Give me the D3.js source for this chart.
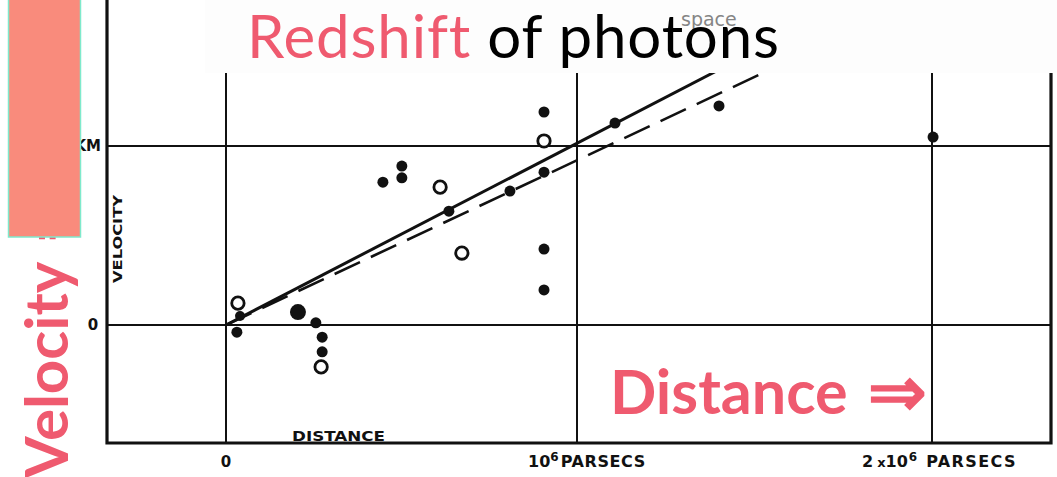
<!DOCTYPE html>
<html>
<head>
<meta charset="utf-8">
<script src="https://cdn.jsdelivr.net/npm/d3@7"></script>
<style>
  html, body { margin: 0; padding: 0; background: #fff; }
  svg { display: block; }
</style>
</head>
<body>
<svg id="chart" width="1057" height="477"></svg>
<script>
// Distance in units of 10^6 parsecs, velocity in km/s
const filledDistance = [0.031, 0.040, 0.205, 0.256, 0.274, 0.274, 0.447, 0.501, 0.501, 0.635, 0.809, 0.906, 0.906, 0.906, 0.906, 1.107, 1.400, 2.003];
const filledVelocity = [-20, 25, 36, 6, -34, -75, 399, 444, 411, 318, 374, 595, 427, 212, 98, 564, 612, 525];
const filledSize     = [5.5, 5, 8, 5.5, 5.5, 5.5, 5.5, 5.5, 5.5, 5.5, 5.5, 5.5, 5.5, 5.5, 5.5, 5.5, 5.5, 5.5];

const openDistance = [0.034, 0.271, 0.610, 0.672, 0.906];
const openVelocity = [61, -117, 385, 201, 514];

// Fitted velocity–distance relations (km/s per 10^6 parsecs)
const solidSlope = 510;
const dashedSlope = 462;
const solidExtent = [0, 1.6];
const dashedExtent = [0, 1.55];

const xTicks = [0, 1, 2];
const yTicks = [0, 500];

const svg = d3.select("#chart");
const pink = "#ef5a6f";
const ink = "#111";

// Plot frame
const frame = { left: 107, right: 1051, top: 0, bottom: 443 };

const x = d3.scaleLinear().domain([0, 1, 2]).range([226, 577, 932]);
const y = d3.scaleLinear().domain([0, 500]).range([325, 146]);

const plot = svg.append("g");

// Grid lines
plot.selectAll("line.vgrid").data(xTicks).join("line")
  .attr("x1", d => x(d)).attr("x2", d => x(d))
  .attr("y1", frame.top).attr("y2", frame.bottom)
  .attr("stroke", ink).attr("stroke-width", 2);

plot.selectAll("line.hgrid").data(yTicks).join("line")
  .attr("x1", frame.left).attr("x2", frame.right)
  .attr("y1", d => y(d)).attr("y2", d => y(d))
  .attr("stroke", ink).attr("stroke-width", 2);

// Frame: left, bottom, right
plot.append("path")
  .attr("d", `M${frame.left},${frame.top} V${frame.bottom} H${frame.right} V${frame.top}`)
  .attr("fill", "none").attr("stroke", ink).attr("stroke-width", 3.2);

// Regression lines
const line = d3.line().x(d => x(d[0])).y(d => y(d[1]));
plot.append("path")
  .attr("d", line(solidExtent.map(d => [d, d * solidSlope])))
  .attr("fill", "none").attr("stroke", ink).attr("stroke-width", 3);
plot.append("path")
  .attr("d", line(dashedExtent.map(d => [d, d * dashedSlope])))
  .attr("fill", "none").attr("stroke", ink).attr("stroke-width", 2.6)
  .attr("stroke-dasharray", "28 12");

// Points
plot.selectAll("circle.filled").data(filledDistance).join("circle")
  .attr("cx", d => x(d))
  .attr("cy", (d, i) => y(filledVelocity[i]))
  .attr("r", (d, i) => filledSize[i])
  .attr("fill", ink);

plot.selectAll("circle.open").data(openDistance).join("circle")
  .attr("cx", d => x(d))
  .attr("cy", (d, i) => y(openVelocity[i]))
  .attr("r", 6.2)
  .attr("fill", "#fff").attr("stroke", ink).attr("stroke-width", 2.8);

// Axis lettering
const lab = svg.append("g")
  .attr("font-family", "'DejaVu Sans', sans-serif")
  .attr("font-weight", "bold")
  .attr("fill", ink);

lab.append("text").attr("x", x(0)).attr("y", 467)
  .attr("text-anchor", "middle").attr("font-size", 15).text("0");

const t1 = lab.append("text").attr("x", 528).attr("y", 467).attr("font-size", 16);
t1.append("tspan").text("10");
t1.append("tspan").attr("font-size", 12).attr("dy", -6).text("6");
t1.append("tspan").attr("dy", 6).attr("dx", 2).attr("letter-spacing", 0.6).text("PARSECS");

const t2 = lab.append("text").attr("x", 862).attr("y", 467).attr("font-size", 16);
t2.append("tspan").text("2");
t2.append("tspan").attr("font-size", 13).attr("dx", 4).text("x");
t2.append("tspan").text("10");
t2.append("tspan").attr("font-size", 12).attr("dy", -6).attr("dx", 1).text("6");
t2.append("tspan").attr("dy", 6).attr("dx", 9).attr("letter-spacing", 1.4).text("PARSECS");

lab.append("text").attr("x", 93).attr("y", y(0)).attr("dy", "0.35em")
  .attr("text-anchor", "middle").attr("font-size", 15).text("0");
lab.append("text").attr("x", 101).attr("y", y(500)).attr("dy", "0.35em")
  .attr("text-anchor", "end").attr("font-size", 15).text("500 KM");

lab.append("text").attr("transform", "translate(122,239) rotate(-90)")
  .attr("text-anchor", "middle").attr("font-size", 12)
  .attr("textLength", 88).attr("lengthAdjust", "spacingAndGlyphs").text("VELOCITY");

lab.append("text").attr("x", 292).attr("y", 441).attr("font-size", 14)
  .attr("textLength", 93).attr("lengthAdjust", "spacingAndGlyphs").text("DISTANCE");

// Title band
svg.append("rect").attr("x", 205).attr("y", 0).attr("width", 852).attr("height", 73)
  .attr("fill", "#fdfdfd");
svg.append("text").attr("x", 681).attr("y", 26)
  .attr("font-family", "'DejaVu Sans', sans-serif").attr("font-size", 19)
  .attr("fill", "#858585").text("space");

const title = svg.append("text").attr("x", 247).attr("y", 58)
  .attr("font-family", "Lato, sans-serif").attr("font-size", 60)
  .attr("letter-spacing", 0.85);
title.append("tspan").attr("fill", pink).text("Redshift");
title.append("tspan").attr("fill", "#000").text(" of photons");

// Axis captions
const dist = svg.append("text").attr("x", 610).attr("y", 414)
  .attr("font-family", "Lato, sans-serif").attr("font-weight", "bold")
  .attr("font-size", 61).attr("fill", pink);
dist.append("tspan").text("Distance ");
dist.append("tspan").attr("font-size", 70).attr("dy", 2).attr("dx", 6).text("⇒");

const vel = svg.append("text").attr("transform", "translate(68,478) rotate(-90)")
  .attr("font-family", "Lato, sans-serif").attr("font-weight", "bold")
  .attr("font-size", 60).attr("fill", pink);
vel.append("tspan").text("Velocity ");
vel.append("tspan").attr("dx", 6).attr("font-size", 66).text("⇒");

svg.append("rect").attr("x", 8.5).attr("y", -2).attr("width", 72).attr("height", 239)
  .attr("fill", "#f98b7c").attr("stroke", "#7fe9cc").attr("stroke-width", 1.5);
</script>
</body>
</html>
